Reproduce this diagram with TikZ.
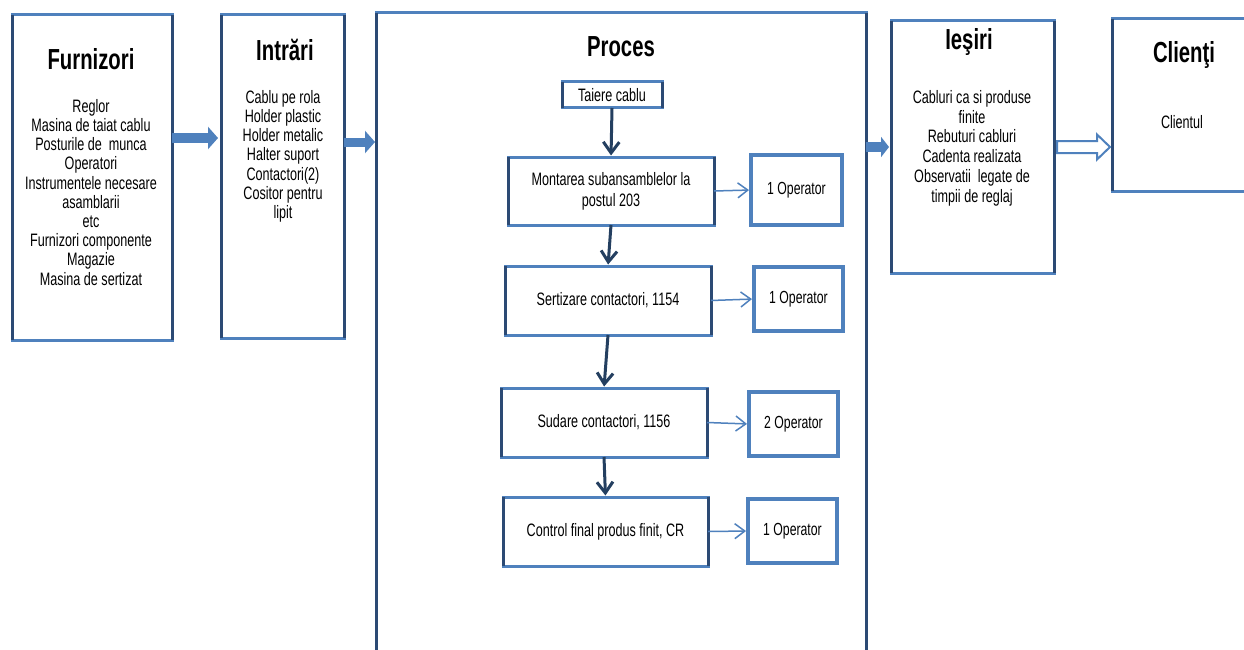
\documentclass[tikz,border=0pt]{standalone}
\usepackage{fontspec}
\setmainfont{Liberation Sans}[FakeStretch=0.7]
\usetikzlibrary{arrows.meta,calc}

\definecolor{boxblue}{HTML}{4F81BD}
\definecolor{boxnavy}{HTML}{2C4A74}
\definecolor{flownavy}{HTML}{243F60}

\newcommand\panelbody{\fontsize{18}{19.2}\selectfont}
\newcommand\panelhead{\fontsize{29}{32}\selectfont\bfseries}
\newcommand\opfont{\fontsize{17.5}{20}\selectfont}

\tikzset{
  panel/.style={draw=boxblue, line width=3pt, outer sep=0pt, inner sep=0pt, rectangle},
  stepbox/.style={draw=boxblue, line width=3pt, outer sep=0pt, inner sep=0pt,
                  align=center, font=\fontsize{18}{21}\selectfont},
  opbox/.style={draw=boxblue, line width=3.5pt, outer sep=0pt, inner sep=0pt, font=\opfont},
  sidepen/.style={draw=boxnavy, line width=3pt},
  headtext/.style={font=\panelhead, inner sep=0pt},
  bodytext/.style={font=\panelbody, align=center, inner sep=0pt, anchor=north},
  blockflow/.style={draw=boxblue, line width=9pt,
                    -{Triangle[length=10pt,width=22pt]}},
  hollowflow/.style={draw=boxblue, line width=2pt, fill=white, line join=miter},
  downflow/.style={draw=flownavy, line width=3pt, shorten >=1.5pt,
                   -{Straight Barb[length=11pt,width=16pt]}},
  sideflow/.style={draw=boxblue, line width=1.5pt, shorten >=2pt,
                   -{Straight Barb[length=10pt,width=15pt]}},
}

\begin{document}
\begin{tikzpicture}[x=1pt,y=-1pt]
\useasboundingbox (0,0) rectangle (1244,650);
\fill[white] (0,0) rectangle (1244,650);

% the five main panels
\node[panel, minimum width=160pt, minimum height=325pt] (furn) at (92,177.5) {};
\node[panel, minimum width=123pt, minimum height=323pt] (intr) at (282.5,176.5) {};
\node[panel, minimum width=490pt, minimum height=652pt] (proc) at (621,339) {};
\node[panel, minimum width=163pt, minimum height=252pt] (ies) at (972.5,147) {};
\node[panel, minimum width=148pt, minimum height=172pt] (cli) at (1186,105) {};

% process steps
\node[stepbox, minimum width=100pt, minimum height=26pt] (taie) at (612,95) {Taiere cablu};
\node[stepbox, minimum width=206pt, minimum height=68pt] (mont) at (611,191)
  {Montarea subansamblelor la\\postul 203};
\node[stepbox, minimum width=206pt, minimum height=69pt] (sert) at (608,300.5)
  {Sertizare contactori, 1154};
\node[stepbox, minimum width=206pt, minimum height=69pt] (sud) at (604,422.5)
  {Sudare contactori, 1156};
\node[stepbox, minimum width=205pt, minimum height=69pt] (ctrl) at (605.5,531.5)
  {Control final produs finit, CR};

% operators per step
\node[opbox, minimum width=91pt, minimum height=70pt] (op1) at (796.5,190) {1 Operator};
\node[opbox, minimum width=89pt, minimum height=64pt] (op2) at (798.5,299) {1 Operator};
\node[opbox, minimum width=89pt, minimum height=64pt] (op3) at (793.5,424) {2 Operator};
\node[opbox, minimum width=89pt, minimum height=64pt] (op4) at (792.5,531) {1 Operator};

% darker vertical sides of the frames
\foreach \n in {furn,intr,proc,ies,cli,taie,mont,sert,sud,ctrl}
  \draw[sidepen] (\n.north west) -- (\n.south west) (\n.north east) -- (\n.south east);

% panel headings
\node[headtext] (furnT) at (91,59) {Furnizori};
\node[headtext] (intrT) at (285,50) {Intrări};
\node[headtext] (procT) at (621,47) {Proces};
\node[headtext] (iesT) at (969,42.5) {Ieşiri};
\node[headtext] (cliT) at (1184,55) {Clienţi};

% panel contents
\node[bodytext] (furnB) at (91,99) {Reglor\\Masina de taiat cablu\\Posturile de~ munca\\
  Operatori\\Instrumentele necesare\\asamblarii\\etc\\Furnizori componente\\Magazie\\
  Masina de sertizat};
\node[bodytext] (intrB) at (283,90) {Cablu pe rola\\Holder plastic\\Holder metalic\\
  Halter suport\\Contactori(2)\\Cositor pentru\\lipit};
\node[bodytext, font=\fontsize{18}{19.8}\selectfont] (iesB) at (972,90)
  {Cabluri ca si produse\\finite\\Rebuturi cabluri\\Cadenta realizata\\
  Observatii~ legate de\\timpii de reglaj};
\node[bodytext] (cliB) at (1182,115) {Clientul};

% flow between the panels
\coordinate (f1s) at (furn.east |- 0,138);
\coordinate (f1e) at (intr.west |- 0,138);
\draw[blockflow, shorten >=3pt] (f1s) -- (f1e);
\coordinate (f2s) at (intr.east |- 0,142);
\coordinate (f2e) at (proc.west |- 0,142);
\draw[blockflow, shorten >=1pt] (f2s) -- (f2e);
\coordinate (f3s) at (proc.east |- 0,147);
\coordinate (f3e) at (ies.west |- 0,147);
\draw[blockflow, line width=10pt, shorten >=2pt,
      -{Triangle[length=8pt,width=20pt]}] (f3s) -- (f3e);

% hollow arrow towards the client
\coordinate (f4s) at ($(ies.east)+(3,0)$);
\coordinate (f4e) at ($(cli.west |- ies.east)+(-2,0)$);
\draw[hollowflow] ($(f4s)+(0,-6)$) -- ($(f4e)+(-13,-6)$) -- ($(f4e)+(-13,-12.5)$)
  -- (f4e) -- ($(f4e)+(-13,12.5)$) -- ($(f4e)+(-13,6)$) -- ($(f4s)+(0,6)$) -- cycle;

% flow through the process
\draw[downflow] (taie.south) -- (mont.north);
\draw[downflow] (mont.south) -- (sert.north);
\draw[downflow] (sert.south) -- (sud.north);
\draw[downflow] (sud.south) -- (ctrl.north);

\draw[sideflow] (mont.east) -- (op1.west);
\draw[sideflow] (sert.east) -- (op2.west);
\draw[sideflow] (sud.east) -- (op3.west);
\draw[sideflow] (ctrl.east) -- (op4.west);
\end{tikzpicture}
\end{document}
